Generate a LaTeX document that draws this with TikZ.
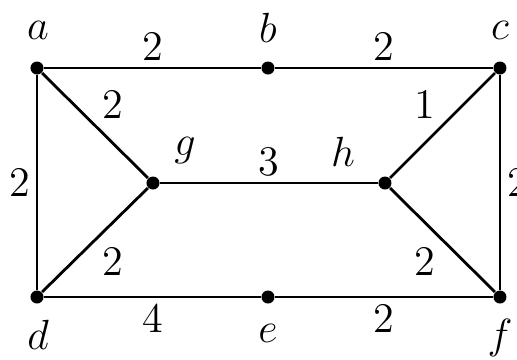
\documentclass[tikz,border=0pt]{standalone}
\usetikzlibrary{positioning}

\begin{document}
\begin{tikzpicture}[x=0.01cm,y=-0.01cm,font=\large,
    vtx/.style={circle,fill=black,inner sep=0pt,minimum size=0.13cm},
    edge/.style={line width=0.8pt},
    wt/.style={inner sep=1.6pt}]
  \useasboundingbox (0,0) rectangle (517,360);
  % vertices
  \node[vtx] (a) at (37,68) {};
  \node[vtx] (b) at (268,68) {};
  \node[vtx] (c) at (500,68) {};
  \node[vtx] (g) at (153,183) {};
  \node[vtx] (h) at (385,183) {};
  \node[vtx] (d) at (37,297) {};
  \node[vtx] (e) at (268,297) {};
  \node[vtx] (f) at (500,297) {};
  % vertex names
  \node (la) at (38,30) {$a$};
  \node (lb) at (268,28) {$b$};
  \node (lc) at (500,30) {$c$};
  \node (lg) at (185,151) {$g$};
  \node (lh) at (343,152) {$h$};
  \node (ld) at (38,335) {$d$};
  \node (le) at (268,333) {$e$};
  \node (lf) at (500,338) {$f$};
  % weighted edges
  \draw[edge] (a) -- node[wt,above] {2} (b);
  \draw[edge] (b) -- node[wt,above] {2} (c);
  \draw[edge] (a) -- node[wt,left] {2} (d);
  \draw[edge] (a) -- node[wt,above right] {2} (g);
  \draw[edge] (c) -- node[wt,above left] {1} (h);
  \draw[edge] (c) -- node[wt,right] {2} (f);
  \draw[edge] (g) -- node[wt,above] {3} (h);
  \draw[edge] (d) -- node[wt,below right] {2} (g);
  \draw[edge] (h) -- node[wt,below left] {2} (f);
  \draw[edge] (d) -- node[wt,below] {4} (e);
  \draw[edge] (e) -- node[wt,below] {2} (f);
\end{tikzpicture}
\end{document}
